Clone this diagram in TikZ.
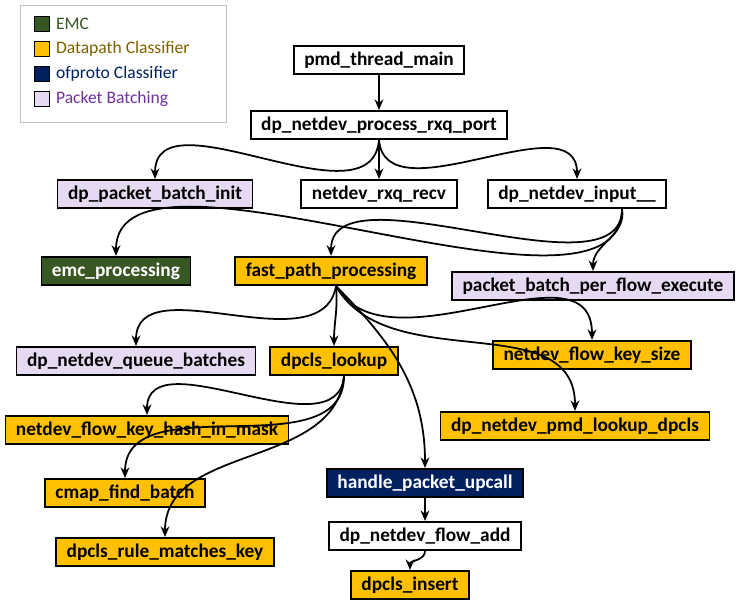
\documentclass[tikz,border=0pt]{standalone}
\usepackage{fontspec}
\setmainfont{Carlito}
\usetikzlibrary{arrows.meta,calc}
\definecolor{emcgreen}{HTML}{385723}
\definecolor{dpyellow}{HTML}{FFC000}
\definecolor{ofnavy}{HTML}{002060}
\definecolor{pblav}{HTML}{E6DAF2}
\definecolor{dptext}{HTML}{7F6000}
\definecolor{pbtext}{HTML}{7030A0}
\tikzset{
  fn/.style={draw=black, line width=1pt, minimum height=0.52cm, inner xsep=6pt,
    font=\fontsize{11}{13}\selectfont\bfseries},
  plain/.style={fn, fill=white},
  emc/.style={fn, fill=emcgreen, text=white},
  dp/.style={fn, fill=dpyellow},
  ofp/.style={fn, fill=ofnavy, text=white},
  pb/.style={fn, fill=pblav},
  call/.style={-{Stealth[length=6pt,width=5pt]}, line width=1pt, out=-90, in=90},
  key/.style={draw=black, minimum size=0.3cm, inner sep=0pt}
}
\begin{document}
\begin{tikzpicture}[x=0.02cm,y=-0.02cm]
\useasboundingbox (0,0) rectangle (750,610);

% legend
\draw[gray!50] (20,5) rectangle (226,122);
\node[key, fill=emcgreen] (kemc) at (42,24) {};
\node[key, fill=dpyellow] (kdp) at (42,49) {};
\node[key, fill=ofnavy] (kof) at (42,74) {};
\node[key, fill=pblav] (kpb) at (42,99) {};
\node[anchor=west, text=emcgreen] at (kemc.east) {EMC};
\node[anchor=west, text=dptext] at (kdp.east) {Datapath Classifier};
\node[anchor=west, text=ofnavy] at (kof.east) {ofproto Classifier};
\node[anchor=west, text=pbtext] at (kpb.east) {Packet Batching};

% functions
\node[plain] (main) at (379,60) {pmd\_thread\_main};
\node[plain] (rxq) at (379,125) {dp\_netdev\_process\_rxq\_port};
\node[pb] (binit) at (155,194) {dp\_packet\_batch\_init};
\node[plain] (recv) at (379,194) {netdev\_rxq\_recv};
\node[plain] (input) at (577,194) {dp\_netdev\_input\_\_};
\node[emc] (emcp) at (116,271) {emc\_processing};
\node[dp] (fpp) at (331,271) {fast\_path\_processing};
\node[pb] (pfex) at (593,286) {packet\_batch\_per\_flow\_execute};
\node[pb] (qbat) at (136,361) {dp\_netdev\_queue\_batches};
\node[dp] (lookup) at (334,361) {dpcls\_lookup};
\node[dp] (ksize) at (592,355) {netdev\_flow\_key\_size};
\node[dp] (khash) at (147,430) {netdev\_flow\_key\_hash\_in\_mask};
\node[dp] (pmdlk) at (575,426) {dp\_netdev\_pmd\_lookup\_dpcls};
\node[dp] (cmap) at (125,493) {cmap\_find\_batch};
\node[ofp] (upcall) at (425,483) {handle\_packet\_upcall};
\node[dp] (rmatch) at (165,552) {dpcls\_rule\_matches\_key};
\node[plain] (fadd) at (425,536) {dp\_netdev\_flow\_add};
\node[dp] (ins) at (410,585) {dpcls\_insert};

% calls
\draw[call] (main) to (rxq);
\draw[call] (rxq.south) to[out=-95] (binit.north);
\draw[call] (rxq) to (recv);
\draw[call] (rxq.south) to[out=-85] (input.north);
\coordinate (isrc) at ($(input.south)+(45,0)$);
\draw[call] (isrc) to[out=-90,in=90,looseness=0.7] (emcp.north);
\draw[call] (isrc) to[out=-90,in=90,looseness=0.8] (fpp.north);
\draw[call] (isrc) to[out=-80,in=90] (pfex.north);
\coordinate (fsrc) at ($(fpp.south)+(5,0)$);
\draw[call] (fsrc) to[out=-100,in=90] (qbat.north);
\draw[call] (fsrc) to[out=-85,in=90] (lookup.north);
\draw[call] (fsrc) to[out=-60,in=90] (ksize.north);
\draw[call] (fsrc) to[out=-60,in=90] (pmdlk.north);
\draw[call] (fsrc) to[out=-45,in=90] (upcall.north);
\coordinate (lsrc) at ($(lookup.south)+(10,0)$);
\draw[call] (lsrc) to[out=-95,in=90] (khash.north);
\draw[call] (lsrc) to[out=-90,in=90] (cmap.north);
\draw[call] (lsrc) to[out=-95,in=90] (rmatch.north);
\draw[call] (upcall) to (fadd);
\draw[call] (fadd) to (ins);
\end{tikzpicture}
\end{document}
